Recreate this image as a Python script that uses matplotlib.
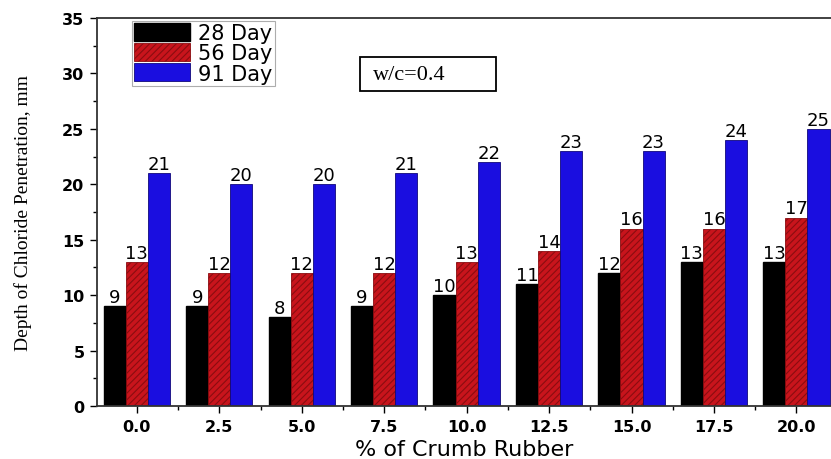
import numpy as np
from matplotlib import pyplot as plt
from matplotlib.patches import Rectangle

# data
rubber = [0.0, 2.5, 5.0, 7.5, 10.0, 12.5, 15.0, 17.5, 20.0]
day28 = [9, 9, 8, 9, 10, 11, 12, 13, 13]
day56 = [13, 12, 12, 12, 13, 14, 16, 16, 17]
day91 = [21, 20, 20, 21, 22, 23, 23, 24, 25]

plt.rcParams['font.family'] = 'DejaVu Sans'
plt.rcParams['hatch.color'] = '#7a0a0a'
plt.rcParams['hatch.linewidth'] = 0.8

fig = plt.figure(figsize=(8.31, 4.60), dpi=100)
ax = fig.add_axes([0.1167, 0.1152, 0.8833, 0.8435])

x = np.array(rubber)
w = 0.67
b1 = ax.bar(x - w, day28, w, color='black', edgecolor='black', label='28 Day')
b2 = ax.bar(x, day56, w, color='#c8141c', edgecolor='#8a0c10', hatch='/////',
            linewidth=0.6, label='56 Day')
b3 = ax.bar(x + w, day91, w, color='#1a0ee0', edgecolor='#10087a',
            linewidth=0.6, label='91 Day')

for bars, vals in [(b1, day28), (b2, day56), (b3, day91)]:
    for r, v in zip(bars, vals):
        ax.text(r.get_x() + r.get_width() / 2, v + 0.02, str(v),
                ha='center', va='bottom', fontsize=13)

ax.set_xlim(-1.21, 21.05)
ax.set_ylim(0, 35)
ax.set_xticks(rubber)
ax.set_xticklabels(['%.1f' % v for v in rubber], fontweight='bold', fontsize=11.5)
ax.set_xticks(np.arange(1.25, 20, 2.5), minor=True)
ax.set_yticks(range(0, 36, 5))
ax.set_yticks(np.arange(2.5, 35, 5), minor=True)
for lab in ax.get_yticklabels():
    lab.set_fontweight('bold')
    lab.set_fontsize(11.5)
ax.tick_params(which='major', direction='out', length=5, width=1, pad=4)
ax.tick_params(which='minor', direction='out', length=3, width=1)
ax.spines['right'].set_visible(False)
for s in ['top', 'left', 'bottom']:
    ax.spines[s].set_linewidth(1.3)
    ax.spines[s].set_color('#333333')

ax.set_xlabel('% of Crumb Rubber', fontsize=16, labelpad=4)
ax.set_ylabel('Depth of Chloride Penetration, mm', fontsize=14,
              family='Liberation Serif', labelpad=22)

leg = ax.legend(loc='upper left', bbox_to_anchor=(0.043, 1.0), fontsize=15,
                frameon=True, fancybox=False, edgecolor='#999999',
                handlelength=2.7, handleheight=0.95, labelspacing=0.0,
                borderpad=0.1, handletextpad=0.4, borderaxespad=0.15)
leg.get_frame().set_linewidth(0.8)

# w/c annotation box
ax.add_patch(Rectangle((0.358, 0.812), 0.186, 0.087, transform=ax.transAxes,
                       facecolor='white', edgecolor='black', linewidth=1.3))
ax.text(0.376, 0.855, 'w/c=0.4', transform=ax.transAxes, fontsize=16,
        family='Liberation Serif', va='center', ha='left')

plt.savefig('out.png', dpi=100)
